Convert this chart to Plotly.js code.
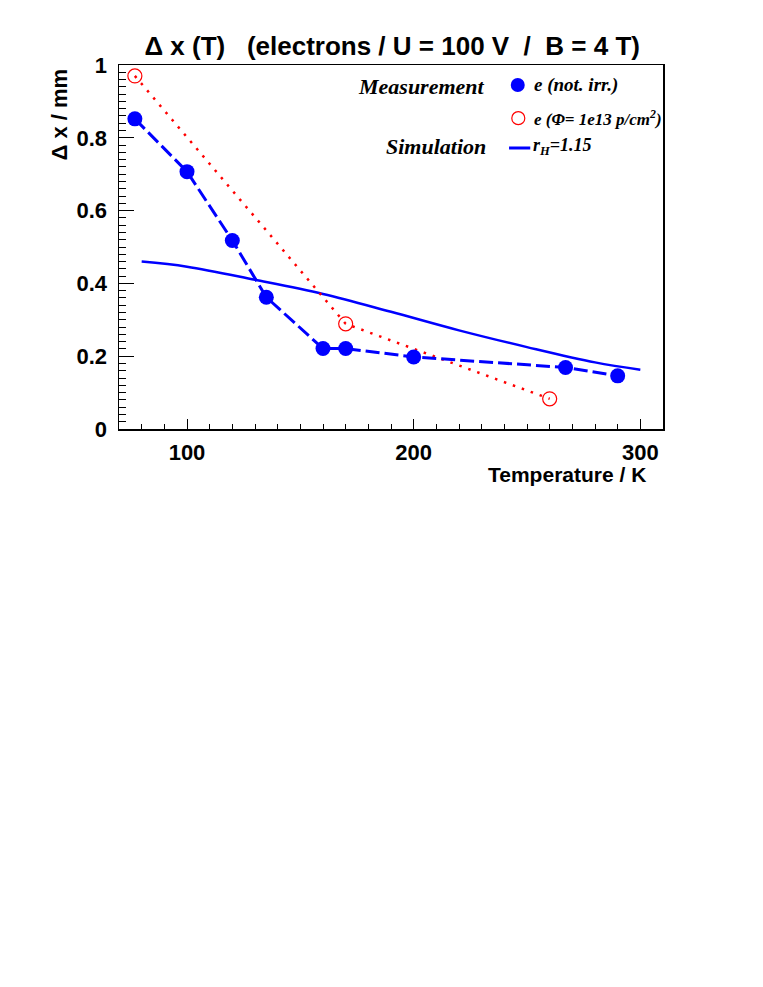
<!DOCTYPE html>
<html>
<head>
<meta charset="utf-8">
<script src="https://cdn.plot.ly/plotly-3.0.1.min.js"></script>
<style>
  html, body { margin: 0; padding: 0; background: #fff; }
  #plot { width: 763px; height: 987px; }
</style>
</head>
<body>
<div id="plot"></div>
<script>
// measured points, not irradiated sensor (filled blue)
const tempNotIrr = [77, 100, 120, 135, 160, 170, 200, 267, 290];
const dxNotIrr = [0.852, 0.707, 0.518, 0.362, 0.221, 0.221, 0.198, 0.169, 0.146];

// measured points, irradiated sensor 1e13 p/cm2 (open red)
const tempIrr = [77, 170, 260];
const dxIrr = [0.970, 0.289, 0.083];

// simulation r_H = 1.15
const tempSim = [80, 100, 130, 160, 190, 220, 250, 280, 300];
const dxSim = [0.460, 0.446, 0.410, 0.371, 0.322, 0.271, 0.225, 0.183, 0.163];

const xTicks = [100, 200, 300];
const yTicks = [0, 0.2, 0.4, 0.6, 0.8, 1];

const sans = "Liberation Sans, Arial, sans-serif";
const serif = "Liberation Serif, Times New Roman, serif";

const daten = [
  {
    x: tempSim,
    y: dxSim,
    type: "scatter",
    mode: "lines",
    line: { color: "#0000ff", width: 2.5, shape: "spline" },
    showlegend: false,
  },
  {
    x: tempIrr,
    y: dxIrr,
    type: "scatter",
    mode: "lines+markers",
    line: { color: "#ff0000", width: 2.5, dash: "2.5px,7px" },
    marker: { symbol: "circle-open", size: 14, color: "#ff0000", line: { width: 1.2, color: "#ff0000" } },
    showlegend: false,
  },
  {
    x: tempNotIrr,
    y: dxNotIrr,
    type: "scatter",
    mode: "lines+markers",
    line: { color: "#0000ff", width: 3, dash: "14px,5px" },
    marker: { symbol: "circle", size: 15, color: "#0000ff" },
    showlegend: false,
  },
];

// legend built by hand (ROOT style: group label left, entries right)
const legendText = (text, x, y, xanchor, size) => ({
  text: "<b><i>" + text + "</i></b>",
  xref: "paper", yref: "paper",
  x: x, y: y, xanchor: xanchor, yanchor: "middle",
  showarrow: false,
  font: { family: serif, size: size, color: "#000" },
});

const annotations = [
  legendText("Measurement", 0.677, 0.942, "right", 22),
  legendText("Simulation", 0.679, 0.777, "right", 22),
  legendText("e (not. irr.)", 0.760, 0.945, "left", 19),
  legendText("e (Φ= 1e13 p/cm<sup>2</sup>)", 0.760, 0.854, "left", 17),
  legendText("r<sub>H</sub>=1.15", 0.758, 0.777, "left", 18),
  {
    text: "<b>Δ x / mm</b>",
    xref: "paper", yref: "paper",
    x: -0.109, y: 0.995, xanchor: "center", yanchor: "top",
    textangle: -90,
    showarrow: false,
    font: { family: sans, size: 22, color: "#000" },
  },
  {
    text: "<b>Temperature / K</b>",
    xref: "paper", yref: "paper",
    x: 0.972, y: -0.125, xanchor: "right", yanchor: "middle",
    showarrow: false,
    font: { family: sans, size: 21, color: "#000" },
  },
];

const shapes = [
  {
    type: "circle", xref: "paper", yref: "paper",
    xsizemode: "pixel", ysizemode: "pixel",
    xanchor: 0.733, yanchor: 0.945,
    x0: -7, x1: 7, y0: -7, y1: 7,
    fillcolor: "#0000ff", line: { width: 0 },
  },
  {
    type: "circle", xref: "paper", yref: "paper",
    xsizemode: "pixel", ysizemode: "pixel",
    xanchor: 0.734, yanchor: 0.854,
    x0: -6.5, x1: 6.5, y0: -6.5, y1: 6.5,
    line: { width: 1.2, color: "#ff0000" },
  },
  {
    type: "line", xref: "paper", yref: "paper",
    x0: 0.717, x1: 0.756, y0: 0.772, y1: 0.772,
    line: { width: 3, color: "#0000ff" },
  },
];

const axisBasis = {
  showline: true,
  mirror: true,
  linecolor: "#000",
  linewidth: 1.5,
  showgrid: false,
  zeroline: false,
  ticks: "inside",
  tickcolor: "#000",
  tickwidth: 1,
  tickfont: { family: sans, size: 22, color: "#000", weight: "bold" },
};

const layout = {
  width: 763,
  height: 987,
  title: {
    text: "<b>Δ x (T)\u00a0\u00a0 (electrons / U = 100 V\u00a0 /\u00a0 B = 4 T)</b>",
    xref: "container", yref: "container",
    x: 0.514, y: 0.953, xanchor: "center", yanchor: "middle",
    font: { family: sans, size: 26, color: "#000" },
  },
  xaxis: {
    ...axisBasis,
    range: [70, 310],
    tickvals: xTicks,
    ticktext: xTicks.map(String),
    ticklen: 10,
    ticklabelstandoff: 3,
    minor: { dtick: 10, tick0: 0, ticks: "inside", ticklen: 5, tickcolor: "#000", tickwidth: 1 },
  },
  yaxis: {
    ...axisBasis,
    range: [0, 1],
    tickvals: yTicks,
    ticktext: yTicks.map(String),
    ticklen: 15,
    ticklabelstandoff: 6,
    minor: { dtick: 0.02, tick0: 0, ticks: "inside", ticklen: 7, tickcolor: "#000", tickwidth: 1 },
  },
  annotations: annotations,
  shapes: shapes,
  showlegend: false,
  margin: { t: 65, r: 100, b: 558, l: 119 },
  paper_bgcolor: "#fff",
  plot_bgcolor: "#fff",
};

const config = { displayModeBar: false, staticPlot: true };

Plotly.newPlot("plot", daten, layout, config);
</script>
</body>
</html>
